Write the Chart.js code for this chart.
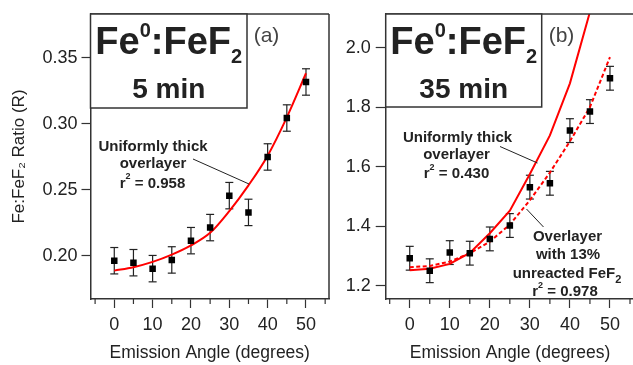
<!DOCTYPE html>
<html>
<head>
<meta charset="utf-8">
<script src="https://cdn.jsdelivr.net/npm/chart.js@4.4.1/dist/chart.umd.min.js"></script>
<style>
    html, body { margin: 0; padding: 0; background: #fff; }
    #wrap { position: relative; width: 633px; height: 365px; overflow: hidden; }
    canvas { position: absolute; top: 0; }
</style>
</head>
<body>
<div id="wrap">
    <canvas id="chartA" width="340" height="365" style="left:0px;width:340px;height:365px"></canvas>
    <canvas id="chartB" width="299" height="365" style="left:340px;width:299px;height:365px"></canvas>
</div>
<script>
var angles = [0, 5, 10, 15, 20, 25, 30, 35, 40, 45, 50]

// panel (a), 5 min
var ratio5 = [0.1964, 0.1949, 0.1904, 0.1970, 0.2116, 0.2215, 0.2457, 0.2330, 0.2750, 0.3045, 0.3318]
var err5 = [0.010, 0.010, 0.010, 0.010, 0.010, 0.010, 0.010, 0.010, 0.010, 0.010, 0.010]
var fitUniform5 = [0.1889, 0.1915, 0.1955, 0.2010, 0.2080, 0.2175, 0.2340, 0.2535, 0.2760, 0.3050, 0.3384]

// panel (b), 35 min
var ratio35 = [1.292, 1.250, 1.311, 1.309, 1.357, 1.402, 1.531, 1.544, 1.721, 1.785, 1.897]
var err35 = [0.040, 0.040, 0.040, 0.040, 0.040, 0.040, 0.040, 0.040, 0.040, 0.040, 0.040]
var fitUniform35 = [1.252, 1.257, 1.273, 1.310, 1.376, 1.452, 1.575, 1.705, 1.880, 2.120]
var fitPartial35 = [1.262, 1.266, 1.281, 1.309, 1.348, 1.405, 1.487, 1.580, 1.685, 1.800, 1.968]

var xTickLabels = [0, 10, 20, 30, 40, 50]
var xMinorTicks = [-5, 5, 15, 25, 35, 45, 55]
var yTicks5 = [0.20, 0.25, 0.30, 0.35]
var yTicks35 = [1.2, 1.4, 1.6, 1.8, 2.0]

var FONT = '"Liberation Sans", Arial, Helvetica, sans-serif'
var INK = '#222'
var AXIS = '#333'

function pairs(xs, ys) {
    return ys.map(function (y, i) { return { x: xs[i], y: y } })
}

function asTicks(list) {
    return function (scale) {
        scale.ticks = list.map(function (v) { return { value: v } })
    }
}

// draws text made of pieces with their own size / raise, centred on cx
function drawRich(ctx, parts, cx, y) {
    var total = 0
    parts.forEach(function (p) {
        ctx.font = p.f + FONT
        total += ctx.measureText(p.t).width
    })
    var x = cx - total / 2
    ctx.textAlign = 'left'
    ctx.textBaseline = 'alphabetic'
    parts.forEach(function (p) {
        ctx.font = p.f + FONT
        ctx.fillStyle = p.c || INK
        ctx.fillText(p.t, x, y + (p.dy || 0))
        x += ctx.measureText(p.t).width
    })
}

function line(ctx, x1, y1, x2, y2) {
    ctx.beginPath()
    ctx.moveTo(x1, y1)
    ctx.lineTo(x2, y2)
    ctx.stroke()
}

function decorPlugin(spec) {
    return {
        id: 'decor',
        beforeDatasetsDraw: function (chart) {
            // error bars
            var ctx = chart.ctx, xs = chart.scales.x, ys = chart.scales.y
            ctx.save()
            ctx.strokeStyle = INK
            ctx.lineWidth = 1.2
            spec.values.forEach(function (v, i) {
                var px = xs.getPixelForValue(angles[i])
                var top = ys.getPixelForValue(v + spec.errors[i])
                var bot = ys.getPixelForValue(v - spec.errors[i])
                line(ctx, px, top, px, bot)
                line(ctx, px - 4, top, px + 4, top)
                line(ctx, px - 4, bot, px + 4, bot)
            })
            ctx.restore()
        },
        afterDraw: function (chart) {
            var ctx = chart.ctx, area = chart.chartArea, xs = chart.scales.x
            ctx.save()
            ctx.strokeStyle = AXIS
            ctx.lineWidth = 1.2
            xMinorTicks.forEach(function (v) {
                var px = xs.getPixelForValue(v)
                if (px >= area.left && px <= area.right) line(ctx, px, area.bottom, px, area.bottom + 5)
            })
            ctx.lineWidth = 1.5
            line(ctx, area.left, area.top, area.right, area.top)
            if (spec.rightFrame) line(ctx, area.right, area.top, area.right, area.bottom)

            ctx.translate(-spec.offsetX, 0)
            // title box
            var b = spec.box
            var bx = area.left + spec.offsetX
            ctx.fillStyle = '#fff'
            ctx.fillRect(bx, area.top, b.right - bx, b.bottom - area.top)
            ctx.strokeRect(bx, area.top, b.right - bx, b.bottom - area.top)
            drawRich(ctx, [
                { t: 'Fe', f: 'bold 38px ' },
                { t: '0', f: 'bold 20px ', dy: -16.5 },
                { t: ':FeF', f: 'bold 38px ' },
                { t: '2', f: 'bold 20px ', dy: 9.5 }
            ], b.cx, 53.5)
            drawRich(ctx, [{ t: spec.time, f: 'bold 28px ' }], b.cx, 97.5)
            drawRich(ctx, [{ t: spec.tag, f: '21px ', c: '#444' }], spec.tagX, 42)

            spec.notes.forEach(function (n) {
                drawRich(ctx, n.parts, n.cx, n.y)
            })
            ctx.strokeStyle = INK
            ctx.lineWidth = 1
            spec.leaders.forEach(function (l) { line(ctx, l[0], l[1], l[2], l[3]) })
            ctx.restore()
        }
    }
}

function bold(t) { return { t: t, f: 'bold 15px ' } }
function rsq(val) {
    return [bold('r'), { t: '2', f: 'bold 9px ', dy: -8.5 }, bold(' = ' + val)]
}

function makePanel(id, cfg) {
    var ctx = document.getElementById(id)
    var datasets = [{
        label: 'data',
        data: pairs(angles, cfg.values),
        showLine: false,
        pointStyle: 'rect',
        pointRadius: 4.6,
        pointBorderWidth: 0,
        backgroundColor: '#000',
        borderColor: '#000'
    }]
    cfg.fits.forEach(function (f) {
        datasets.push({
            label: f.label,
            data: pairs(angles, f.data),
            showLine: true,
            borderColor: '#ff0000',
            backgroundColor: '#ff0000',
            borderWidth: 2,
            borderDash: f.dash || [],
            pointRadius: 0,
            tension: 0,
            cubicInterpolationMode: f.smooth ? 'monotone' : 'default'
        })
    })

    return new Chart(ctx, {
        type: 'scatter',
        data: { datasets: datasets },
        options: {
            responsive: false,
            maintainAspectRatio: false,
            animation: false,
            devicePixelRatio: 1,
            events: [],
            layout: { padding: { top: 14, right: cfg.padRight, left: 0, bottom: 0 } },
            plugins: { legend: { display: false }, tooltip: { enabled: false } },
            scales: {
                x: {
                    type: 'linear',
                    min: cfg.xMin,
                    max: cfg.xMax,
                    afterFit: function (s) {
                        s.height = 66
                        s.paddingLeft = 0
                        s.paddingRight = 0
                    },
                    afterBuildTicks: asTicks(xTickLabels),
                    ticks: {
                        font: { family: FONT, size: 18 },
                        color: INK,
                        padding: 6,
                        maxRotation: 0,
                        autoSkip: false,
                        callback: function (v) { return '' + v }
                    },
                    grid: { drawOnChartArea: false, tickLength: 9, tickColor: AXIS, tickWidth: 1.2 },
                    border: { color: AXIS, width: 1.5 },
                    title: {
                        display: true,
                        text: 'Emission Angle (degrees)',
                        font: { family: FONT, size: 17.5 },
                        color: INK,
                        padding: { top: 0, bottom: 1 }
                    }
                },
                y: {
                    type: 'linear',
                    min: cfg.yMin,
                    max: cfg.yMax,
                    afterFit: function (s) {
                        s.width = cfg.yWidth
                        s.paddingTop = 0
                        s.paddingBottom = 0
                    },
                    afterBuildTicks: asTicks(cfg.yTicks),
                    ticks: {
                        font: { family: FONT, size: 18 },
                        color: INK,
                        padding: cfg.yPad,
                        autoSkip: false,
                        callback: function (v) { return v.toFixed(cfg.digits) }
                    },
                    grid: { drawOnChartArea: false, tickLength: cfg.yTick, tickColor: AXIS, tickWidth: 1.2 },
                    border: { color: AXIS, width: 1.5 },
                    title: {
                        display: !!cfg.yTitle,
                        text: cfg.yTitle || '',
                        font: { family: FONT, size: 17 },
                        color: INK,
                        padding: { top: 9.5, bottom: 0 }
                    }
                }
            }
        },
        plugins: [decorPlugin(cfg.decor)]
    })
}

function Graphic() {
    makePanel('chartA', {
        values: ratio5,
        fits: [{ label: 'uniform', data: fitUniform5, smooth: true }],
        xMin: -6.2, xMax: 56.0,
        yMin: 0.1674, yMax: 0.3833,
        yTicks: yTicks5, digits: 2,
        yWidth: 90.5, padRight: 11, yTick: 9, yPad: 4,
        yTitle: 'Fe:FeF\u2082 Ratio (R)',
        decor: {
            offsetX: 0,
            values: ratio5, errors: err5,
            rightFrame: true,
            box: { right: 247, bottom: 108, cx: 168.7 },
            time: '5 min', tag: '(a)', tagX: 266.5,
            notes: [
                { parts: [bold('Uniformly thick')], cx: 153, y: 151 },
                { parts: [bold('overlayer')], cx: 153, y: 168 },
                { parts: rsq('0.958'), cx: 152.5, y: 187.5 }
            ],
            leaders: [[193, 159, 249, 184]]
        }
    })

    // chart area ends about 5px inside the canvas, so the canvas runs past the page edge
    makePanel('chartB', {
        values: ratio35,
        fits: [
            { label: 'uniform', data: fitUniform35 },
            { label: 'partial', data: fitPartial35, dash: [4, 2.5] }
        ],
        xMin: -6.0, xMax: 56.1,
        yMin: 1.155, yMax: 2.113,
        yTicks: yTicks35, digits: 1,
        yWidth: 45.7, padRight: 0, yTick: 10, yPad: 5,
        yTitle: null,
        decor: {
            offsetX: 340,
            values: ratio35, errors: err35,
            rightFrame: false,
            box: { right: 541.7, bottom: 107, cx: 463.7 },
            time: '35 min', tag: '(b)', tagX: 561.5,
            notes: [
                { parts: [bold('Uniformly thick')], cx: 457.5, y: 142 },
                { parts: [bold('overlayer')], cx: 456.5, y: 159 },
                { parts: rsq('0.430'), cx: 456.5, y: 178 },
                { parts: [bold('Overlayer')], cx: 567.5, y: 241 },
                { parts: [bold('with 13%')], cx: 568, y: 259 },
                { parts: [bold('unreacted FeF'), { t: '2', f: 'bold 11px ', dy: 5 }], cx: 567, y: 278 },
                { parts: rsq('0.978'), cx: 565, y: 296 }
            ],
            leaders: [[500, 146.5, 537.5, 163], [526.5, 209, 543.5, 227]]
        }
    })
}

window.addEventListener('load', Graphic)
</script>
</body>
</html>
